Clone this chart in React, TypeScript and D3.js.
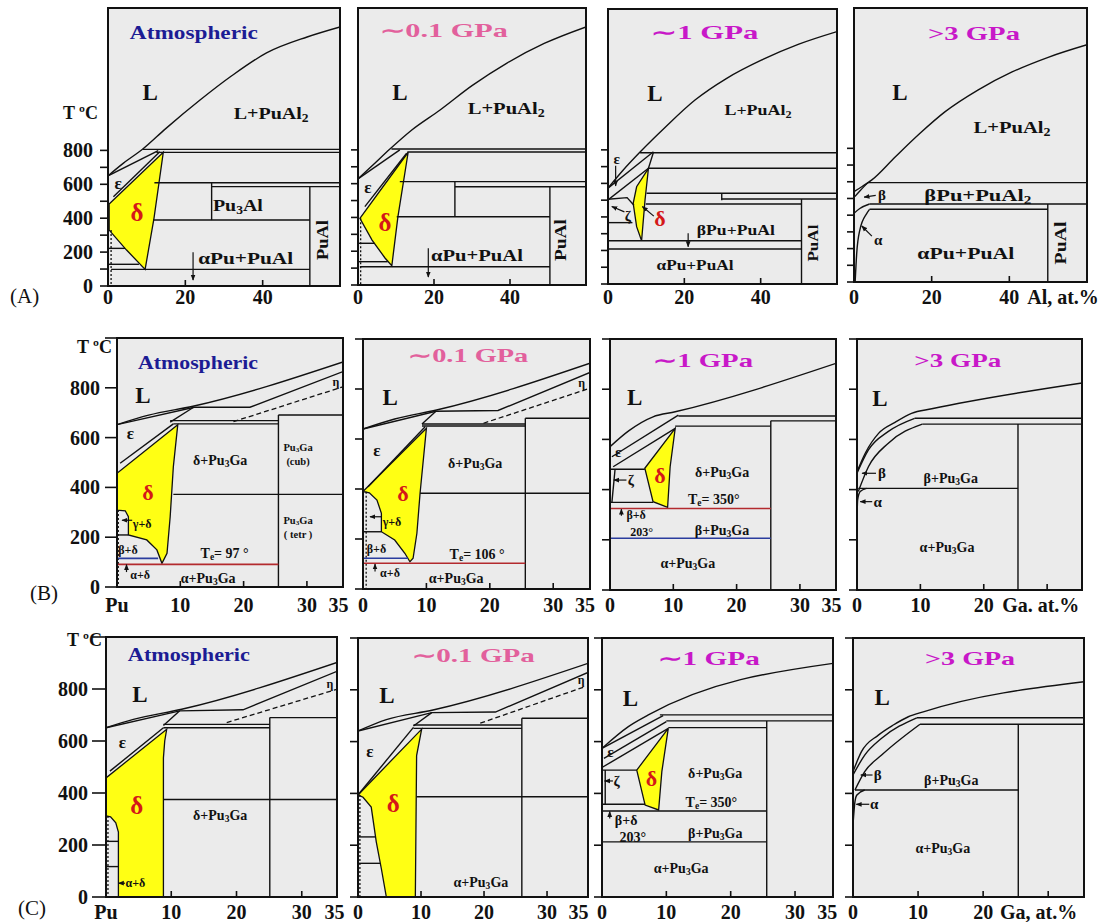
import React from 'react';
import * as d3 from 'd3';

type Pt = [number, number];
type Lbl = { t: string; x: number; y: number; k: string; w?: number; a?: string; rot?: number };

// ---------------- axes ----------------
const A_yTicks = [0, 100, 200, 300, 400, 500, 600, 700, 800];
const A_yLabels = [0, 200, 400, 600, 800];
const BC_yTicks = [0, 200, 400, 600, 800, 1000];
const BC_yLabels = [0, 200, 400, 600, 800];
const A_xInner = [20, 40];
const BC_xInner = [10, 20, 30];
const A_xLab: [number, string, string?][] = [[0, '0'], [20, '20'], [40, '40']];
const A4_xLab: [number, string, string?][] = [[0, '0'], [20, '20'], [40, '40'], [44.6, 'Al, at.%', 'start']];
const B1_xLab: [number, string, string?][] = [[0, 'Pu'], [10, '10'], [20, '20'], [30, '30'], [35, '35']];
const B_xLab: [number, string, string?][] = [[0, '0'], [10, '10'], [20, '20'], [30, '30'], [35, '35']];
const B4_xLab: [number, string, string?][] = [[0, '0'], [10, '10'], [20, '20'], [22.9, 'Ga. at.%', 'start']];
const C4_xLab: [number, string, string?][] = [[0, '0'], [10, '10'], [20, '20'], [22.6, 'Ga, at.%', 'start']];

// ---------------- Row A : Pu–Al ----------------
const A1_liquidus: Pt[] = [[0, 650], [4, 725], [9, 808], [15, 930], [23.8, 1097], [32, 1240], [41, 1375], [51.5, 1469], [60, 1528]];
const A1_lines: Pt[][] = [
  [[9, 806], [60, 806]], [[12.5, 788], [60, 788]], [[0, 650], [13, 798]], [[1.4, 527], [13.4, 792]],
  [[12, 609], [60, 609]], [[26.8, 586], [60, 586]], [[26.8, 609], [26.8, 389]], [[52.2, 586], [52.2, 0]],
  [[11.7, 389], [52.2, 389]], [[0.8, 98], [52.2, 98]], [[0, 128], [8, 128]], [[0, 222], [4.4, 222]],
];
const A1_dotted: Pt[][] = [[[0.8, 330], [0.8, 0]]];
const A1_delta: Pt[] = [[0.3, 484], [14.3, 789], [11.9, 401], [9.6, 98], [4.8, 212], [0.3, 330]];
const A1_arrows: [Pt, Pt][] = [[[22, 199], [22, 35]]];
const A1_labels: Lbl[] = [
  { t: 'Atmospheric', x: 22.2, y: 1498, k: 'title', w: 128 },
  { t: 'L', x: 10.9, y: 1145, k: 'L' },
  { t: 'L+PuAl_2', x: 42.2, y: 1021, k: 'big', w: 75 },
  { t: 'ε', x: 2.6, y: 608, k: 'eps' },
  { t: 'δ', x: 7.5, y: 437, k: 'del' },
  { t: 'Pu_3Al', x: 33.6, y: 478, k: 'big', w: 50 },
  { t: 'αPu+PuAl', x: 35.6, y: 165, k: 'big', w: 95 },
  { t: 'PuAl', x: 55.3, y: 271, k: 'big', rot: -90, w: 40 },
];

const A2_liquidus: Pt[] = [[0, 628], [4, 712], [8.4, 805], [14, 915], [21.6, 1036], [30, 1180], [39.2, 1314], [49, 1430], [60, 1528]];
const A2_lines: Pt[][] = [
  [[8.8, 805], [60, 805]], [[13, 787], [60, 787]], [[0, 628], [11, 800]], [[1.8, 464], [12.8, 780]],
  [[11, 612], [60, 612]], [[25.5, 612], [25.5, 404]], [[25.5, 582], [60, 582]], [[50.5, 582], [50.5, 0]],
  [[10.2, 404], [50.5, 404]], [[0.5, 108], [50.5, 108]], [[0, 247], [4.3, 247]], [[0, 138], [7.8, 138]],
];
const A2_dotted: Pt[][] = [[[0.7, 395], [0.7, 0]]];
const A2_delta: Pt[] = [[0.5, 395], [13.2, 786], [10.5, 403], [8.9, 114], [7.1, 160], [3.7, 266]];
const A2_arrows: [Pt, Pt][] = [[[18.5, 218], [18.5, 47]]];
const A2_labels: Lbl[] = [
  { t: '∼0.1 GPa', x: 22.6, y: 1510, k: 'title', w: 128 },
  { t: 'L', x: 11, y: 1143, k: 'L' },
  { t: 'L+PuAl_2', x: 39, y: 1048, k: 'big', w: 77 },
  { t: 'ε', x: 2.6, y: 580, k: 'eps' },
  { t: 'δ', x: 7.1, y: 373, k: 'del' },
  { t: 'αPu+PuAl', x: 31.3, y: 178, k: 'big', w: 92 },
  { t: 'PuAl', x: 53.2, y: 266, k: 'big', rot: -90, w: 42 },
];

const A3_liquidus: Pt[] = [[0, 572], [4, 680], [8.4, 787], [15, 935], [22.8, 1097], [31, 1225], [40.3, 1336], [50, 1430], [60, 1505]];
const A3_lines: Pt[][] = [
  [[8.4, 783], [60, 783]], [[10.6, 690], [60, 690]], [[0, 572], [11.9, 789]], [[0, 501], [10.6, 690]],
  [[10.6, 690], [11.9, 785]], [[10.1, 541], [60, 541]], [[29.8, 507], [60, 507]], [[29.8, 541], [29.8, 500]],
  [[9.9, 477], [50.7, 477]], [[50.7, 507], [50.7, 0]], [[0, 258], [50.7, 258]], [[0, 209], [50.7, 209]],
  [[0, 366], [6.4, 366]], [[0, 505], [5, 515], [6.8, 470]],
];
const A3_delta: Pt[] = [[10.6, 690], [7.5, 580], [6.6, 481], [7.5, 342], [8.8, 258], [9.7, 501]];
const A3_arrows: [Pt, Pt][] = [[[2, 705], [2, 585]], [[4.3, 430], [1, 462]], [[12, 405], [9, 462]], [[21, 302], [21, 222]]];
const A3_labels: Lbl[] = [
  { t: '∼1 GPa', x: 25.4, y: 1503, k: 'title', w: 107 },
  { t: 'L', x: 12.3, y: 1139, k: 'L' },
  { t: 'L+PuAl_2', x: 39.3, y: 1038, k: 'mid', w: 67 },
  { t: 'ε', x: 2.3, y: 745, k: 'mid' },
  { t: 'ζ', x: 5.2, y: 405, k: 'mid' },
  { t: 'δ', x: 13.6, y: 395, k: 'dels' },
  { t: 'βPu+PuAl', x: 33.5, y: 322, k: 'mid', w: 78 },
  { t: 'αPu+PuAl', x: 22.8, y: 113, k: 'mid', w: 77 },
  { t: 'PuAl', x: 53.7, y: 244, k: 'mid', rot: -90, w: 37 },
];

const A4_liquidus: Pt[] = [[0, 541], [2, 570], [4.6, 611], [10.6, 748], [17, 890], [23.4, 1018], [32, 1150], [40.7, 1257], [50, 1345], [60, 1420]];
const A4_curves: Pt[][] = [
  [[0.2, 511], [1.5, 545], [3.6, 595]],
  [[0, 411], [1.5, 440], [4, 467]],
  [[0.3, 2], [0.7, 172], [1.5, 311], [3.3, 411], [4, 435]],
];
const A4_lines: Pt[][] = [[[3.6, 595], [60, 595]], [[4, 467], [60, 467]], [[4, 435], [49.9, 435]], [[49.9, 467], [49.9, 0]]];
const A4_arrows: [Pt, Pt][] = [[[5.6, 518], [2.6, 508]], [[4.6, 275], [2, 335]]];
const A4_labels: Lbl[] = [
  { t: '>3 GPa', x: 30.9, y: 1491, k: 'title', w: 92 },
  { t: 'L', x: 11.8, y: 1138, k: 'L' },
  { t: 'L+PuAl_2', x: 40.7, y: 928, k: 'big', w: 77 },
  { t: 'β', x: 7.2, y: 521, k: 'mid' },
  { t: 'α', x: 6.2, y: 251, k: 'mid' },
  { t: 'βPu+PuAl_2', x: 31.9, y: 521, k: 'big', w: 107 },
  { t: 'αPu+PuAl', x: 28.8, y: 174, k: 'big', w: 97 },
  { t: 'PuAl', x: 53, y: 234, k: 'big', rot: -90, w: 43 },
];

// ---------------- Row B : Pu–Ga ----------------
const B1_liquidus: Pt[] = [[0, 652], [5, 690], [12, 726], [35.7, 904]];
const B1_lines: Pt[][] = [
  [[0, 652], [12.2, 722], [21, 722], [35.7, 865]], [[8.4, 662], [12.1, 722]], [[0.5, 497], [8.9, 655]],
  [[8.4, 668], [25.5, 668]], [[8.9, 655], [25.5, 655]], [[25.5, 691], [35.7, 691]], [[25.5, 691], [25.5, 0]],
  [[8.9, 372], [35.7, 372]], [[0, 209], [1.8, 209]],
];
const B1_dashed: Pt[][] = [[[18.4, 664], [35.7, 804]]];
const B1_dotted: Pt[][] = [[[0.2, 309], [0.2, 0]]];
const B1_red: Pt[][] = [[[0, 91], [25.5, 91]]];
const B1_blue: Pt[][] = [[[0, 115], [6.5, 115]]];
const B1_delta: Pt[] = [[0, 457], [9.6, 652], [8.9, 483], [8.4, 282], [7.9, 135], [7.1, 95], [6.3, 149], [4.7, 189], [1.8, 209], [1.8, 282], [1.3, 306], [0, 309]];
const B1_arrows: [Pt, Pt][] = [[[2.4, 268], [0.8, 268]], [[1.5, 60], [1.5, 90]]];
const B1_labels: Lbl[] = [
  { t: 'Atmospheric', x: 12.8, y: 904, k: 'title', w: 120 },
  { t: 'L', x: 4.1, y: 771, k: 'L' },
  { t: 'ε', x: 2.1, y: 618, k: 'eps' },
  { t: 'δ', x: 4.9, y: 382, k: 'dels' },
  { t: 'γ+δ', x: 2.5, y: 252, k: 'xs', a: 'start' },
  { t: 'β+δ', x: 0.2, y: 150, k: 'xs', a: 'start' },
  { t: 'α+δ', x: 2.1, y: 48, k: 'xs', a: 'start' },
  { t: 'T_e= 97 °', x: 17, y: 137, k: 'sm' },
  { t: 'α+Pu_3Ga', x: 14.4, y: 36, k: 'sm' },
  { t: 'δ+Pu_3Ga', x: 16.3, y: 510, k: 'sm' },
  { t: 'Pu_3Ga', x: 28.6, y: 562, k: 'xxs' },
  { t: '(cub)', x: 28.6, y: 505, k: 'xxs' },
  { t: 'Pu_3Ga', x: 28.6, y: 269, k: 'xxs' },
  { t: '( tetr )', x: 28.6, y: 212, k: 'xxs' },
  { t: 'η', x: 34.6, y: 823, k: 'xs' },
];

const B2_liquidus: Pt[] = [[0, 640], [5, 680], [11.6, 716], [35.8, 903]];
const B2_lines: Pt[][] = [
  [[0, 640], [11.5, 711], [21.3, 714], [35.8, 866]], [[9.3, 660], [11.5, 711]], [[0.8, 409], [9.8, 649]],
  [[9.3, 660], [25.6, 660]], [[9.3, 652], [25.6, 652]], [[25.6, 683], [35.8, 683]], [[25.6, 683], [25.6, 0]],
  [[9, 383], [35.8, 383]], [[0, 229], [2.9, 229]],
];
const B2_dashed: Pt[][] = [[[19, 663], [35.8, 803]]];
const B2_dotted: Pt[][] = [[[0.5, 389], [0.5, 0]]];
const B2_red: Pt[][] = [[[0, 103], [25.6, 103]]];
const B2_blue: Pt[][] = [[[0, 123], [7.1, 123]]];
const B2_delta: Pt[] = [[0, 390], [10, 643], [9, 383], [8.5, 223], [7.9, 123], [7.4, 109], [6.6, 143], [5, 196], [2.9, 229], [2.9, 303], [2.2, 356], [1, 385]];
const B2_arrows: [Pt, Pt][] = [[[3, 289], [1.1, 289]], [[1.9, 70], [1.9, 100]]];
const B2_labels: Lbl[] = [
  { t: '∼0.1 GPa', x: 16.6, y: 936, k: 'title', w: 120 },
  { t: 'L', x: 4.3, y: 768, k: 'L' },
  { t: 'ε', x: 2.2, y: 556, k: 'eps' },
  { t: 'δ', x: 6.3, y: 384, k: 'dels' },
  { t: 'γ+δ', x: 3.1, y: 268, k: 'xs', a: 'start' },
  { t: 'β+δ', x: 0.6, y: 160, k: 'xs', a: 'start' },
  { t: 'α+δ', x: 2.7, y: 64, k: 'xs', a: 'start' },
  { t: 'T_e= 106 °', x: 18, y: 140, k: 'sm' },
  { t: 'α+Pu_3Ga', x: 14.7, y: 44, k: 'sm' },
  { t: 'δ+Pu_3Ga', x: 17.7, y: 504, k: 'sm' },
  { t: 'η', x: 34.5, y: 823, k: 'xs' },
];

const B3_liquidus: Pt[] = [[0, 571], [3, 635], [6.8, 690], [10.3, 710], [35.7, 903]];
const B3_lines: Pt[][] = [
  [[0.3, 531], [10.8, 697]], [[0.5, 491], [10.3, 644]], [[10.8, 693], [35.7, 693]], [[25.4, 674], [35.7, 674]],
  [[10.3, 653], [25.4, 653]], [[25.4, 674], [25.4, 0]], [[0, 481], [5.5, 481]], [[0, 349], [6.8, 349]],
  [[0.8, 481], [0.3, 349]],
];
const B3_red: Pt[][] = [[[0, 325], [25.4, 325]]];
const B3_blue: Pt[][] = [[[0, 206], [25.4, 206]]];
const B3_delta: Pt[] = [[10.3, 644], [5.5, 485], [6.8, 352], [9.1, 329], [9.5, 491]];
const B3_arrows: [Pt, Pt][] = [[[2.6, 438], [0.6, 438]], [[1.8, 296], [1.8, 322]]];
const B3_labels: Lbl[] = [
  { t: '∼1 GPa', x: 14.7, y: 916, k: 'title', w: 100 },
  { t: 'L', x: 3.9, y: 769, k: 'L' },
  { t: 'ε', x: 1.3, y: 551, k: 'mid' },
  { t: 'ζ', x: 2.8, y: 438, k: 'mid', a: 'start' },
  { t: 'δ', x: 7.9, y: 458, k: 'dels' },
  { t: 'δ+Pu_3Ga', x: 17.7, y: 470, k: 'sm' },
  { t: 'T_e= 350°', x: 16.4, y: 363, k: 'sm' },
  { t: 'β+δ', x: 2.6, y: 298, k: 'xs', a: 'start' },
  { t: '203°', x: 5, y: 232, k: 'xs' },
  { t: 'β+Pu_3Ga', x: 17.7, y: 239, k: 'sm' },
  { t: 'α+Pu_3Ga', x: 12.3, y: 108, k: 'sm' },
];

const B4_liquidus: Pt[] = [[0, 471], [1.3, 545], [3.4, 624], [6, 668], [8.6, 704], [11.8, 722], [35.5, 825]];
const B4_curves: Pt[][] = [
  [[0, 465], [1.8, 558], [4.9, 631], [9.1, 684]],
  [[0.2, 392], [1.8, 491], [4.9, 584], [10.3, 661]],
  [[0, 286], [0.1, 359], [0.5, 392], [1.5, 405]],
];
const B4_lines: Pt[][] = [[[9.1, 684], [35.5, 684]], [[10.3, 661], [35.5, 661]], [[0.2, 405], [25.4, 405]], [[25.4, 661], [25.4, 0]]];
const B4_arrows: [Pt, Pt][] = [[[3, 465], [0.8, 465]], [[2.4, 352], [0.5, 352]]];
const B4_labels: Lbl[] = [
  { t: '>3 GPa', x: 15.9, y: 916, k: 'title', w: 87 },
  { t: 'L', x: 3.6, y: 765, k: 'L' },
  { t: 'β', x: 3.3, y: 465, k: 'mid', a: 'start' },
  { t: 'α', x: 2.6, y: 352, k: 'mid', a: 'start' },
  { t: 'β+Pu_3Ga', x: 14.8, y: 446, k: 'sm' },
  { t: 'α+Pu_3Ga', x: 14.2, y: 171, k: 'sm' },
];

// ---------------- Row C : Pu–Ga (second set) ----------------
const C1_liquidus: Pt[] = [[0, 651], [4.2, 683], [11.6, 722], [35.4, 902]];
const C1_lines: Pt[][] = [
  [[0, 651], [11.3, 716], [21, 720], [35.4, 868]], [[8.8, 660], [11.3, 716]], [[0.6, 484], [8.8, 651]],
  [[8.8, 664], [25.1, 664]], [[8.8, 651], [25.1, 651]], [[25.1, 690], [35.4, 690]], [[25.1, 690], [25.1, 0]],
  [[8.8, 375], [35.4, 375]], [[0, 214], [1.9, 214]], [[0, 117], [1.9, 117]],
];
const C1_dashed: Pt[][] = [[[18.5, 671], [35.4, 799]]];
const C1_dotted: Pt[][] = [[[0.3, 312], [0.3, 0]]];
const C1_delta: Pt[] = [[0, 458], [9.3, 645], [9, 600], [8.8, 535], [8.8, 0], [1.9, 0], [1.9, 250], [1.5, 285], [0.7, 308], [0, 312]];
const C1_arrows: [Pt, Pt][] = [[[2.9, 53], [1.9, 53]]];
const C1_labels: Lbl[] = [
  { t: 'Atmospheric', x: 12.7, y: 934, k: 'title', w: 122 },
  { t: 'L', x: 5.2, y: 780, k: 'L' },
  { t: 'ε', x: 2.5, y: 595, k: 'eps' },
  { t: 'δ', x: 4.7, y: 355, k: 'del' },
  { t: 'δ+Pu_3Ga', x: 17.5, y: 317, k: 'sm' },
  { t: 'α+δ', x: 3, y: 53, k: 'xs', a: 'start' },
  { t: 'η', x: 34.3, y: 818, k: 'xs' },
];

const C2_liquidus: Pt[] = [[0, 641], [4.5, 685], [11.9, 722], [36.5, 902]];
const C2_lines: Pt[][] = [
  [[0, 641], [11.7, 712], [21.8, 714], [36.5, 867]], [[8.8, 660], [11.7, 712]], [[0, 394], [8.8, 655]],
  [[8.8, 664], [26, 664]], [[8.8, 651], [26, 651]], [[26, 690], [36.5, 690]], [[26, 690], [26, 0]],
  [[9.3, 387], [36.5, 387]], [[0, 232], [2.8, 232]], [[0, 130], [3.5, 130]],
];
const C2_dashed: Pt[][] = [[[19.4, 671], [36, 812]]];
const C2_dotted: Pt[][] = [[[0.3, 394], [0.3, 0]]];
const C2_delta: Pt[] = [[0, 394], [10.1, 648], [9.3, 546], [9.1, 0], [4.5, 0], [3.7, 110], [2.9, 213], [2.1, 347], [0.8, 385]];
const C2_labels: Lbl[] = [
  { t: '∼0.1 GPa', x: 18.3, y: 934, k: 'title', w: 123 },
  { t: 'L', x: 4.6, y: 780, k: 'L' },
  { t: 'ε', x: 1.9, y: 564, k: 'eps' },
  { t: 'δ', x: 5.6, y: 363, k: 'del' },
  { t: 'α+Pu_3Ga', x: 19.5, y: 58, k: 'sm' },
  { t: 'η', x: 35.4, y: 838, k: 'xs' },
];

const C3_liquidus: Pt[] = [[0, 574], [4.1, 658], [7.2, 703], [35.9, 902]];
const C3_lines: Pt[][] = [
  [[0, 574], [9.5, 700]], [[0.3, 535], [10, 677]], [[0, 500], [10.3, 651]], [[9, 703], [35.9, 703]],
  [[10, 680], [35.9, 680]], [[10.3, 654], [25.6, 654]], [[25.6, 680], [25.6, 0]], [[0, 490], [5.4, 490]],
  [[0, 358], [6.7, 358]], [[0.5, 490], [0.5, 358]], [[0, 332], [25.6, 332]], [[0, 213], [25.6, 213]],
];
const C3_delta: Pt[] = [[10.3, 651], [5.4, 490], [6.7, 355], [8.8, 336], [9.3, 484]];
const C3_arrows: [Pt, Pt][] = [[[1.7, 448], [0.4, 448]], [[1.2, 303], [1.2, 330]]];
const C3_labels: Lbl[] = [
  { t: '∼1 GPa', x: 16.6, y: 923, k: 'title', w: 102 },
  { t: 'L', x: 4.4, y: 768, k: 'L' },
  { t: 'ε', x: 1.3, y: 560, k: 'mid' },
  { t: 'ζ', x: 1.8, y: 448, k: 'mid', a: 'start' },
  { t: 'δ', x: 7.7, y: 458, k: 'dels' },
  { t: 'δ+Pu_3Ga', x: 17.6, y: 479, k: 'sm' },
  { t: 'T_e= 350°', x: 17, y: 367, k: 'sm' },
  { t: 'β+δ', x: 2, y: 298, k: 'sm', a: 'start' },
  { t: '203°', x: 4.8, y: 232, k: 'sm' },
  { t: 'β+Pu_3Ga', x: 17.6, y: 247, k: 'sm' },
  { t: 'α+Pu_3Ga', x: 12.3, y: 112, k: 'sm' },
];

const C4_liquidus: Pt[] = [[0, 484], [1.3, 561], [3.9, 625], [6.2, 664], [8.5, 696], [10.8, 715], [35.5, 831]];
const C4_curves: Pt[][] = [
  [[0, 471], [1.8, 548], [4.4, 613], [9.8, 692]],
  [[0.3, 413], [1.8, 484], [4.4, 548], [10.3, 667]],
  [[0, 278], [0.3, 368], [0.6, 394], [1.8, 413]],
];
const C4_lines: Pt[][] = [[[9.8, 692], [35.5, 692]], [[10.3, 667], [35.5, 667]], [[0.3, 413], [25.4, 413]], [[25.4, 667], [25.4, 0]]];
const C4_arrows: [Pt, Pt][] = [[[3, 471], [1.2, 471]], [[2.5, 358], [0.5, 358]]];
const C4_labels: Lbl[] = [
  { t: '>3 GPa', x: 18, y: 923, k: 'title', w: 90 },
  { t: 'L', x: 4.5, y: 772, k: 'L' },
  { t: 'β', x: 3.2, y: 471, k: 'mid', a: 'start' },
  { t: 'α', x: 2.6, y: 358, k: 'mid', a: 'start' },
  { t: 'β+Pu_3Ga', x: 15.1, y: 452, k: 'sm' },
  { t: 'α+Pu_3Ga', x: 13.8, y: 189, k: 'sm' },
];

// ---------------- styles ----------------
const FONT = "'Liberation Serif','Times New Roman',Times,serif";
const BG = '#ebebeb';
const YELLOW = '#ffff14';
const BLUE_T = '#1c1c94';
const PINK_T = '#e2609c';
const MAG_T = '#c818c8';
const KIND: Record<string, { fs: number; fill?: string }> = {
  title: { fs: 19 },
  L: { fs: 23 },
  big: { fs: 17 },
  mid: { fs: 15 },
  sm: { fs: 14 },
  xs: { fs: 12 },
  xxs: { fs: 10.5 },
  eps: { fs: 17 },
  del: { fs: 25, fill: '#d41818' },
  dels: { fs: 22, fill: '#d41818' },
};

interface Panel {
  id: string;
  frame: [number, number, number, number];
  xMax: number;
  yMax: number;
  yTicks: number[];
  yLabels?: number[];
  yLabelRight?: number;
  tc?: [number, number];
  tickLen: number;
  xInner: number[];
  xLabels: [number, string, string?][];
  xLabDy: number;
  titleColor: string;
  liquidus: Pt[];
  curves: Pt[][];
  lines: Pt[][];
  dashed: Pt[][];
  dotted: Pt[][];
  red: Pt[][];
  blue: Pt[][];
  delta: Pt[];
  arrows: [Pt, Pt][];
  labels: Lbl[];
}

const base = { curves: [] as Pt[][], dashed: [] as Pt[][], dotted: [] as Pt[][], red: [] as Pt[][], blue: [] as Pt[][], delta: [] as Pt[], arrows: [] as [Pt, Pt][] };

const PANELS: Panel[] = [
  { ...base, id: 'A1', frame: [108, 8, 340, 286], xMax: 60, yMax: 1640, yTicks: A_yTicks, yLabels: A_yLabels, yLabelRight: 93, tc: [98, 113], tickLen: 8, xInner: A_xInner, xLabels: A_xLab, xLabDy: 11, titleColor: BLUE_T, liquidus: A1_liquidus, lines: A1_lines, dotted: A1_dotted, delta: A1_delta, arrows: A1_arrows, labels: A1_labels },
  { ...base, id: 'A2', frame: [358, 8, 586, 285], xMax: 60, yMax: 1640, yTicks: A_yTicks, tickLen: 7, xInner: A_xInner, xLabels: A_xLab, xLabDy: 12, titleColor: PINK_T, liquidus: A2_liquidus, lines: A2_lines, dotted: A2_dotted, delta: A2_delta, arrows: A2_arrows, labels: A2_labels },
  { ...base, id: 'A3', frame: [608, 9, 837, 284], xMax: 60, yMax: 1640, yTicks: A_yTicks, tickLen: 7, xInner: A_xInner, xLabels: A_xLab, xLabDy: 13, titleColor: MAG_T, liquidus: A3_liquidus, lines: A3_lines, delta: A3_delta, arrows: A3_arrows, labels: A3_labels },
  { ...base, id: 'A4', frame: [854, 8, 1087, 282], xMax: 60, yMax: 1640, yTicks: A_yTicks, tickLen: 7, xInner: A_xInner, xLabels: A4_xLab, xLabDy: 15, titleColor: MAG_T, liquidus: A4_liquidus, curves: A4_curves, lines: A4_lines, arrows: A4_arrows, labels: A4_labels },
  { ...base, id: 'B1', frame: [117, 338, 343, 587], xMax: 35.7, yMax: 1000, yTicks: BC_yTicks, yLabels: BC_yLabels, yLabelRight: 100, tc: [112, 347], tickLen: 12, xInner: BC_xInner, xLabels: B1_xLab, xLabDy: 18, titleColor: BLUE_T, liquidus: B1_liquidus, lines: B1_lines, dashed: B1_dashed, dotted: B1_dotted, red: B1_red, blue: B1_blue, delta: B1_delta, arrows: B1_arrows, labels: B1_labels },
  { ...base, id: 'B2', frame: [363, 339, 590, 589], xMax: 35.8, yMax: 1000, yTicks: BC_yTicks, tickLen: 8, xInner: BC_xInner, xLabels: B_xLab, xLabDy: 16, titleColor: PINK_T, liquidus: B2_liquidus, lines: B2_lines, dashed: B2_dashed, dotted: B2_dotted, red: B2_red, blue: B2_blue, delta: B2_delta, arrows: B2_arrows, labels: B2_labels },
  { ...base, id: 'B3', frame: [610, 339, 836, 590], xMax: 35.7, yMax: 1000, yTicks: BC_yTicks, tickLen: 8, xInner: BC_xInner, xLabels: B_xLab, xLabDy: 15, titleColor: MAG_T, liquidus: B3_liquidus, lines: B3_lines, red: B3_red, blue: B3_blue, delta: B3_delta, arrows: B3_arrows, labels: B3_labels },
  { ...base, id: 'B4', frame: [857, 339, 1082, 590], xMax: 35.5, yMax: 1000, yTicks: BC_yTicks, tickLen: 8, xInner: BC_xInner, xLabels: B4_xLab, xLabDy: 15, titleColor: MAG_T, liquidus: B4_liquidus, curves: B4_curves, lines: B4_lines, arrows: B4_arrows, labels: B4_labels },
  { ...base, id: 'C1', frame: [106, 637, 337, 897], xMax: 35.4, yMax: 1000, yTicks: BC_yTicks, yLabels: BC_yLabels, yLabelRight: 88, tc: [102, 640], tickLen: 14, xInner: BC_xInner, xLabels: B1_xLab, xLabDy: 15, titleColor: BLUE_T, liquidus: C1_liquidus, lines: C1_lines, dashed: C1_dashed, dotted: C1_dotted, delta: C1_delta, arrows: C1_arrows, labels: C1_labels },
  { ...base, id: 'C2', frame: [358, 638, 588, 897], xMax: 36.5, yMax: 1000, yTicks: BC_yTicks, tickLen: 8, xInner: BC_xInner, xLabels: B_xLab, xLabDy: 15, titleColor: PINK_T, liquidus: C2_liquidus, lines: C2_lines, dashed: C2_dashed, dotted: C2_dotted, delta: C2_delta, labels: C2_labels },
  { ...base, id: 'C3', frame: [602, 638, 833, 897], xMax: 35.9, yMax: 1000, yTicks: BC_yTicks, tickLen: 8, xInner: BC_xInner, xLabels: B_xLab, xLabDy: 15, titleColor: MAG_T, liquidus: C3_liquidus, lines: C3_lines, delta: C3_delta, arrows: C3_arrows, labels: C3_labels },
  { ...base, id: 'C4', frame: [853, 638, 1084, 897], xMax: 35.5, yMax: 1000, yTicks: BC_yTicks, tickLen: 8, xInner: BC_xInner, xLabels: C4_xLab, xLabDy: 15, titleColor: MAG_T, liquidus: C4_liquidus, curves: C4_curves, lines: C4_lines, arrows: C4_arrows, labels: C4_labels },
];

const ROW_TAGS = [
  { t: '(A)', x: 10, y: 296 },
  { t: '(B)', x: 30, y: 593 },
  { t: '(C)', x: 18, y: 908 },
];

function rich(t: string, fs: number) {
  const out: React.ReactNode[] = [];
  let buf = '';
  let k = 0;
  let pend = 0;
  const flush = () => {
    if (buf) {
      out.push(<tspan key={k++} dy={pend || undefined}>{buf}</tspan>);
      pend = 0;
      buf = '';
    }
  };
  for (let i = 0; i < t.length; i++) {
    if (t[i] === '_' && i + 1 < t.length) {
      flush();
      const d = fs * 0.28;
      out.push(<tspan key={k++} fontSize={fs * 0.68} dy={d}>{t[i + 1]}</tspan>);
      pend = -d;
      i++;
    } else buf += t[i];
  }
  flush();
  return out;
}

function PanelView({ p }: { p: Panel }) {
  const [x0, y0, x1, y1] = p.frame;
  const xs = d3.scaleLinear().domain([0, p.xMax]).range([x0, x1]);
  const ys = d3.scaleLinear().domain([0, p.yMax]).range([y1, y0]);
  const lin = d3.line<Pt>().x(d => xs(d[0])).y(d => ys(d[1]));
  const smooth = d3.line<Pt>().x(d => xs(d[0])).y(d => ys(d[1])).curve(d3.curveMonotoneX);
  const poly = d3.line<Pt>().x(d => xs(d[0])).y(d => ys(d[1])).curve(d3.curveLinearClosed);
  const clip = `clip-${p.id}`;
  const lineW = 1.4;
  return (
    <g>
      <defs>
        <clipPath id={clip}>
          <rect x={x0} y={y0} width={x1 - x0} height={y1 - y0} />
        </clipPath>
      </defs>
      <rect x={x0} y={y0} width={x1 - x0} height={y1 - y0} fill={BG} />
      <g clipPath={`url(#${clip})`}>
        {p.delta.length > 0 && <path d={poly(p.delta) || ''} fill={YELLOW} stroke="#111" strokeWidth={1.3} />}
        <path d={smooth(p.liquidus) || ''} fill="none" stroke="#111" strokeWidth={lineW} />
        {p.curves.map((c, i) => <path key={'c' + i} d={smooth(c) || ''} fill="none" stroke="#111" strokeWidth={lineW} />)}
        {p.lines.map((l, i) => <path key={'l' + i} d={lin(l) || ''} fill="none" stroke="#111" strokeWidth={lineW} />)}
        {p.dashed.map((l, i) => <path key={'d' + i} d={lin(l) || ''} fill="none" stroke="#111" strokeWidth={1.3} strokeDasharray="5,3" />)}
        {p.dotted.map((l, i) => <path key={'o' + i} d={lin(l) || ''} fill="none" stroke="#111" strokeWidth={1.3} strokeDasharray="2,2" />)}
        {p.red.map((l, i) => <path key={'r' + i} d={lin(l) || ''} fill="none" stroke="#b32a2e" strokeWidth={1.6} />)}
        {p.blue.map((l, i) => <path key={'b' + i} d={lin(l) || ''} fill="none" stroke="#2a3c9e" strokeWidth={1.6} />)}
        {p.arrows.map((a, i) => (
          <line key={'a' + i} x1={xs(a[0][0])} y1={ys(a[0][1])} x2={xs(a[1][0])} y2={ys(a[1][1])} stroke="#111" strokeWidth={1.2} markerEnd="url(#ah)" />
        ))}
        {p.labels.map((l, i) => {
          const st = KIND[l.k];
          const px = xs(l.x);
          const py = ys(l.y);
          const fill = l.k === 'title' ? p.titleColor : st.fill || '#111';
          return (
            <text
              key={'t' + i}
              x={px}
              y={py}
              fontSize={st.fs}
              fontWeight="bold"
              fill={fill}
              textAnchor={(l.a as any) || 'middle'}
              dominantBaseline="central"
              textLength={l.w}
              lengthAdjust={l.w ? 'spacingAndGlyphs' : undefined}
              transform={l.rot ? `rotate(${l.rot},${px},${py})` : undefined}
            >
              {rich(l.t, st.fs)}
            </text>
          );
        })}
      </g>
      <rect x={x0} y={y0} width={x1 - x0} height={y1 - y0} fill="none" stroke="#111" strokeWidth={2} />
      {p.yTicks.map(t => (
        <line key={'yt' + t} x1={x0 - p.tickLen} x2={x0} y1={ys(t)} y2={ys(t)} stroke="#111" strokeWidth={1.6} />
      ))}
      {p.xInner.map(t => (
        <line key={'xt' + t} x1={xs(t)} x2={xs(t)} y1={y1} y2={y1 - 6} stroke="#111" strokeWidth={1.6} />
      ))}
      {(p.yLabels || []).map(t => (
        <text key={'yl' + t} x={p.yLabelRight} y={ys(t)} fontSize={20} fontWeight="bold" textAnchor="end" dominantBaseline="central" fill="#111">
          {t}
        </text>
      ))}
      {p.tc && (
        <text x={p.tc[0]} y={p.tc[1]} fontSize={18} fontWeight="bold" textAnchor="end" dominantBaseline="central" fill="#111">
          T ºC
        </text>
      )}
      {p.xLabels.map((l, i) => (
        <text key={'xl' + i} x={xs(l[0])} y={y1 + p.xLabDy} fontSize={20} fontWeight="bold" textAnchor={(l[2] as any) || 'middle'} dominantBaseline="central" fill="#111">
          {l[1]}
        </text>
      ))}
    </g>
  );
}

export default function App() {
  return (
    <svg width={1109} height={922} style={{ position: 'absolute', left: 0, top: 0, background: '#fff' }} fontFamily={FONT}>
      <defs>
        <marker id="ah" viewBox="0 0 10 10" refX="9" refY="5" markerWidth="6" markerHeight="6" markerUnits="userSpaceOnUse" orient="auto">
          <path d="M0,1 L10,5 L0,9 z" fill="#111" />
        </marker>
      </defs>
      <rect width={1109} height={922} fill="#fff" />
      {PANELS.map(p => (
        <PanelView key={p.id} p={p} />
      ))}
      {ROW_TAGS.map(r => (
        <text key={r.t} x={r.x} y={r.y} fontSize={21} dominantBaseline="central" fill="#111">
          {r.t}
        </text>
      ))}
    </svg>
  );
}
